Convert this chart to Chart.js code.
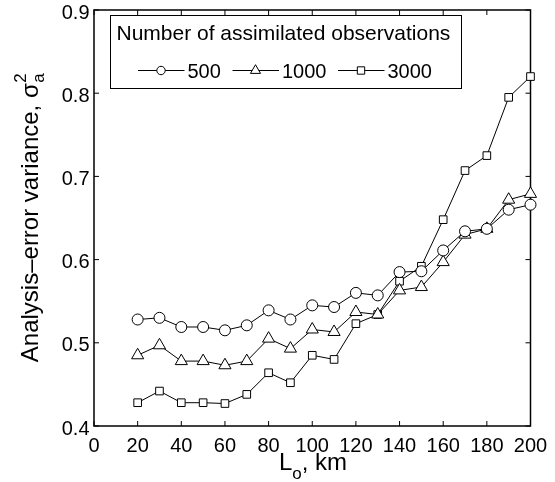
<!DOCTYPE html>
<html>
<head>
<meta charset="utf-8">
<script src="https://cdn.jsdelivr.net/npm/chart.js@4.4.0/dist/chart.umd.min.js"></script>
<style>
  html, body { margin: 0; padding: 0; background: #fff; }
</style>
</head>
<body>
<canvas id="myChart" width="555" height="482"></canvas>
<script>
// values
const lengthScales = [20, 30, 40, 50, 60, 70, 80, 90, 100, 110, 120, 130, 140, 150, 160, 170, 180, 190, 200];
const var500  = [0.528, 0.530, 0.519, 0.519, 0.515, 0.521, 0.539, 0.528, 0.545, 0.543, 0.560, 0.557, 0.585, 0.586, 0.611, 0.634, 0.637, 0.660, 0.666];
const var1000 = [0.485, 0.497, 0.478, 0.478, 0.473, 0.478, 0.505, 0.493, 0.516, 0.513, 0.537, 0.534, 0.563, 0.567, 0.597, 0.630, 0.637, 0.672, 0.679];
const var3000 = [0.428, 0.442, 0.428, 0.428, 0.427, 0.438, 0.464, 0.452, 0.485, 0.480, 0.523, 0.534, 0.574, 0.592, 0.648, 0.707, 0.725, 0.795, 0.820];
const xTicks = [0, 20, 40, 60, 80, 100, 120, 140, 160, 180, 200];
const yTicks = [0.4, 0.5, 0.6, 0.7, 0.8, 0.9];
const seriesLabels = ['500', '1000', '3000'];
const seriesMarkers = ['circle', 'triangle', 'rect'];
const markerSizes = [5.5, 7, 5.4];
const legendMarkerSizes = [4.2, 5.8, 5.2];
const legendLineStarts = [138, 232.5, 338];
const legendTitle = 'Number of assimilated observations';

const FONT = '"Liberation Sans", Arial, Helvetica, sans-serif';

function toPoints(values) {
    return lengthScales.map((x, i) => ({ x: x, y: values[i] }));
}

const datasets = [var500, var1000, var3000].map((values, i) => ({
    label: seriesLabels[i],
    data: toPoints(values),
    borderColor: '#000',
    borderWidth: 1,
    pointStyle: seriesMarkers[i],
    pointRadius: markerSizes[i],
    pointHoverRadius: markerSizes[i],
    pointBackgroundColor: '#fff',
    pointBorderColor: '#000',
    pointBorderWidth: 1,
    tension: 0,
    clip: false
}));

function drawMarker(ctx, style, x, y, r) {
    ctx.beginPath();
    if (style === 'circle') {
        ctx.arc(x, y, r, 0, Math.PI * 2);
    } else if (style === 'triangle') {
        ctx.moveTo(x, y - r);
        ctx.lineTo(x + r * Math.sin(Math.PI / 3), y + r / 2);
        ctx.lineTo(x - r * Math.sin(Math.PI / 3), y + r / 2);
        ctx.closePath();
    } else {
        const s = r * Math.SQRT1_2;
        ctx.rect(x - s, y - s, 2 * s, 2 * s);
    }
    ctx.fillStyle = '#fff';
    ctx.fill();
    ctx.strokeStyle = '#000';
    ctx.lineWidth = 1;
    ctx.stroke();
}

// box round the axes, ticks pointing in on all four sides, tick labels
const frameAndTicks = {
    id: 'frameAndTicks',
    beforeDatasetsDraw(chart) {
        const ctx = chart.ctx;
        const a = chart.chartArea;
        const xs = chart.scales.x;
        const ys = chart.scales.y;
        ctx.save();
        ctx.strokeStyle = '#000';
        ctx.lineWidth = 1.5;
        ctx.strokeRect(a.left, a.top, a.right - a.left, a.bottom - a.top);
        ctx.lineWidth = 1;
        ctx.beginPath();
        xTicks.forEach((t) => {
            const px = xs.getPixelForValue(t);
            ctx.moveTo(px, a.bottom);
            ctx.lineTo(px, a.bottom - 5);
            ctx.moveTo(px, a.top);
            ctx.lineTo(px, a.top + 5);
        });
        yTicks.forEach((t) => {
            const py = ys.getPixelForValue(t);
            ctx.moveTo(a.left, py);
            ctx.lineTo(a.left + 5, py);
            ctx.moveTo(a.right, py);
            ctx.lineTo(a.right - 5, py);
        });
        ctx.stroke();

        ctx.fillStyle = '#000';
        ctx.font = '20px ' + FONT;
        ctx.textBaseline = 'alphabetic';
        ctx.textAlign = 'center';
        xTicks.forEach((t) => {
            ctx.fillText(String(t), xs.getPixelForValue(t), 451.5);
        });
        ctx.textAlign = 'right';
        yTicks.forEach((t) => {
            ctx.fillText(t.toFixed(1), 89.5, ys.getPixelForValue(t) + 8.5);
        });
        ctx.restore();
    }
};

// legend box, axis titles with sub/superscripts
const annotations = {
    id: 'annotations',
    afterDraw(chart) {
        const ctx = chart.ctx;
        ctx.save();

        // legend
        const box = { left: 110.5, top: 15.5, right: 461.5, bottom: 88.5 };
        ctx.fillStyle = '#fff';
        ctx.fillRect(box.left, box.top, box.right - box.left, box.bottom - box.top);
        ctx.strokeStyle = '#000';
        ctx.lineWidth = 1;
        ctx.strokeRect(box.left, box.top, box.right - box.left, box.bottom - box.top);

        ctx.fillStyle = '#000';
        ctx.font = '21px ' + FONT;
        ctx.textBaseline = 'alphabetic';
        ctx.textAlign = 'left';
        ctx.fillText(legendTitle, 116.5, 40);

        const entryY = 70.5;
        seriesLabels.forEach((label, i) => {
            const x = legendLineStarts[i];
            ctx.beginPath();
            ctx.moveTo(x, entryY);
            ctx.lineTo(x + 46.5, entryY);
            ctx.strokeStyle = '#000';
            ctx.lineWidth = 1;
            ctx.stroke();
            drawMarker(ctx, seriesMarkers[i], x + 23, entryY, legendMarkerSizes[i]);
            ctx.fillStyle = '#000';
            ctx.font = '20px ' + FONT;
            ctx.fillText(label, x + 49.5, 77.7);
        });

        // x title: L_o, km
        ctx.font = '24px ' + FONT;
        const wL = ctx.measureText('L').width;
        const wRest = ctx.measureText(', km').width;
        ctx.font = '17px ' + FONT;
        const wo = ctx.measureText('o').width;
        let tx = 313 - (wL + wo + wRest) / 2;
        ctx.font = '24px ' + FONT;
        ctx.fillText('L', tx, 470);
        tx += wL;
        ctx.font = '17px ' + FONT;
        ctx.fillText('o', tx, 479);
        tx += wo;
        ctx.font = '24px ' + FONT;
        ctx.fillText(', km', tx, 470);

        // y title: Analysis–error variance, sigma squared sub a
        ctx.translate(37.5, 218);
        ctx.rotate(-Math.PI / 2);
        ctx.font = '24px ' + FONT;
        const mainText = 'Analysis\u2013error variance, ';
        const wMain = ctx.measureText(mainText).width;
        const wSigma = ctx.measureText('\u03c3').width;
        ctx.font = '17px ' + FONT;
        const wScript = Math.max(ctx.measureText('2').width, ctx.measureText('a').width);
        let ty = -(wMain + wSigma + wScript) / 2;
        ctx.font = '24px ' + FONT;
        ctx.fillText(mainText, ty, 0);
        ty += wMain;
        ctx.fillText('\u03c3', ty, 0);
        ty += wSigma + 0.5;
        ctx.font = '17px ' + FONT;
        ctx.fillText('2', ty, -12);
        ctx.fillText('a', ty, 6);

        ctx.restore();
    }
};

const ctx = document.getElementById('myChart').getContext('2d');

const myChart = new Chart(ctx, {
    type: 'line',
    data: { datasets: datasets },
    options: {
        responsive: false,
        animation: false,
        devicePixelRatio: 1,
        layout: { padding: { top: 10, right: 24.5, bottom: 0, left: 0 } },
        plugins: {
            legend: { display: false },
            tooltip: { enabled: false }
        },
        scales: {
            x: {
                type: 'linear',
                min: 0,
                max: 200,
                grid: { display: false },
                border: { display: false },
                ticks: { display: false },
                afterFit: (scale) => { scale.height = 56; }
            },
            y: {
                type: 'linear',
                min: 0.4,
                max: 0.9,
                grid: { display: false },
                border: { display: false },
                ticks: { display: false },
                afterFit: (scale) => { scale.width = 94; }
            }
        }
    },
    plugins: [frameAndTicks, annotations]
});
</script>
</body>
</html>
